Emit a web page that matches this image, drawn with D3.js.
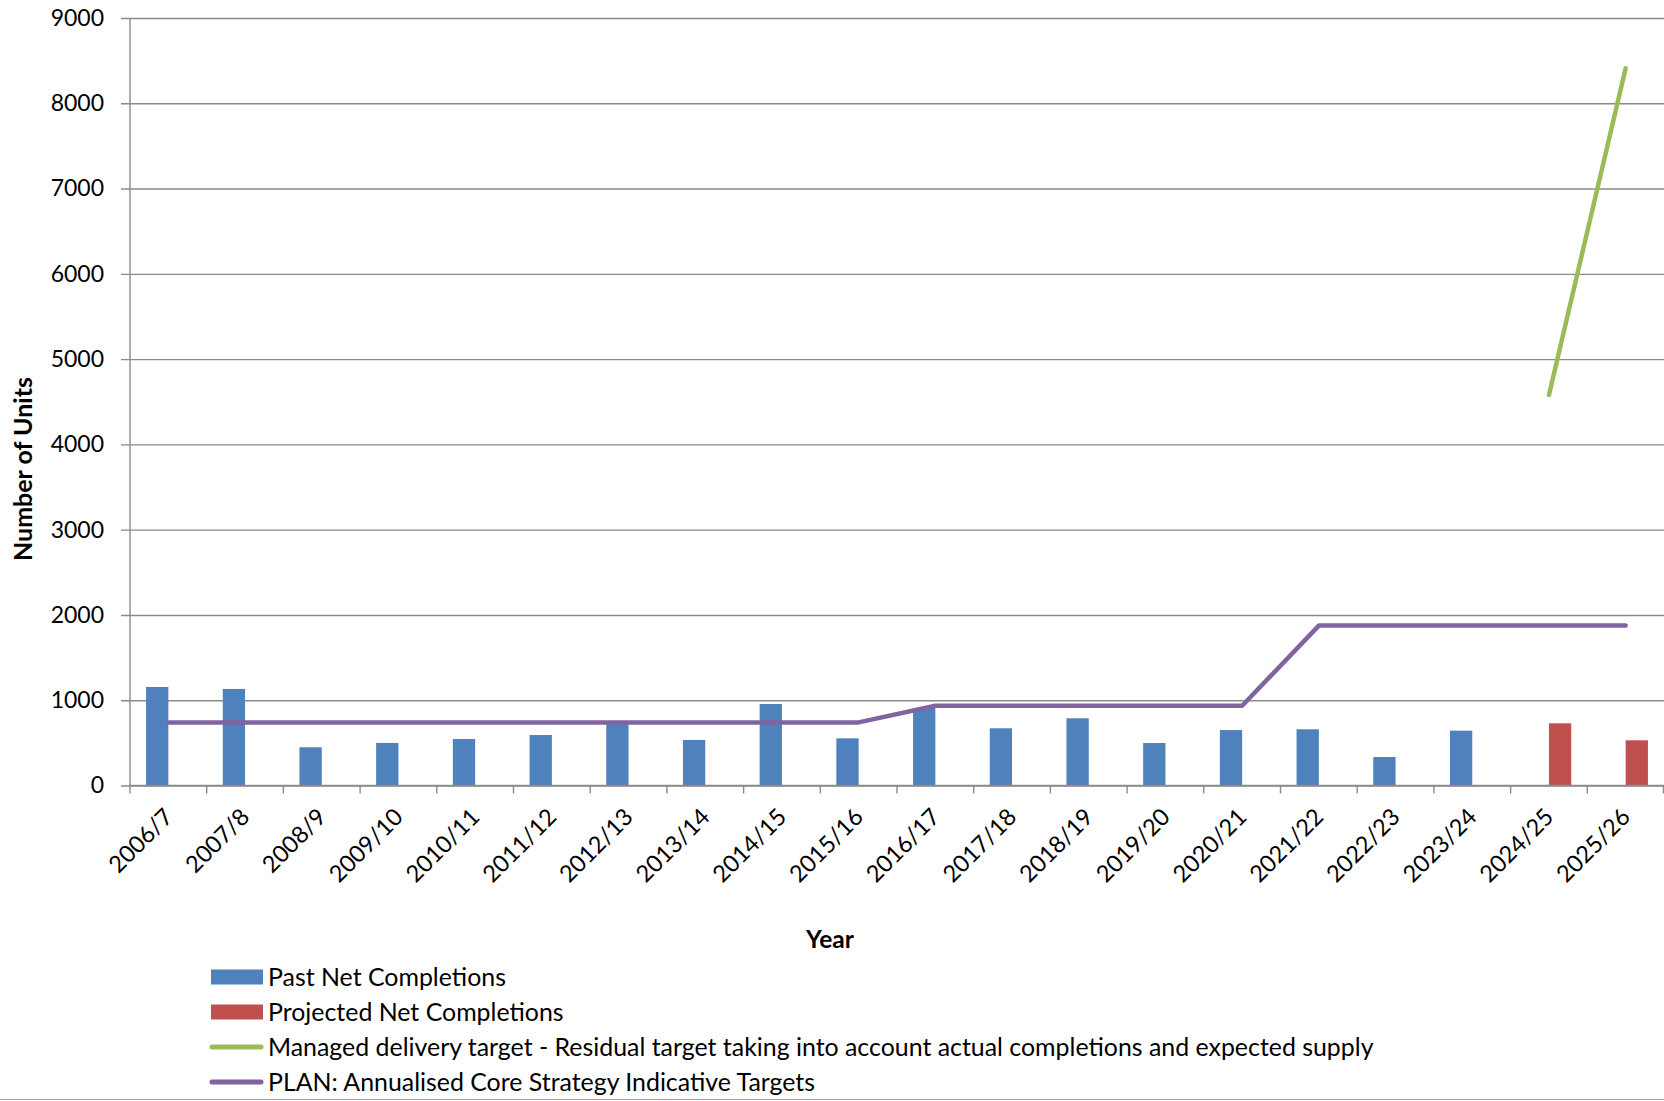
<!DOCTYPE html>
<html>
<head>
<meta charset="utf-8">
<script src="https://cdn.jsdelivr.net/npm/d3@7"></script>
<style>
  html, body { margin: 0; padding: 0; background: #fff; }
  svg { display: block; font-family: Lato, "Open Sans", sans-serif; }
</style>
</head>
<body>
<svg id="chart" width="1664" height="1101"></svg>
<script>
const categories = ["2006/7","2007/8","2008/9","2009/10","2010/11","2011/12","2012/13","2013/14","2014/15","2015/16","2016/17","2017/18","2018/19","2019/20","2020/21","2021/22","2022/23","2023/24","2024/25","2025/26"];
const pastNet = [1155,1132,448,499,545,592,730,534,956,553,910,671,788,498,650,659,334,643,null,null];
const projectedNet = [null,null,null,null,null,null,null,null,null,null,null,null,null,null,null,null,null,null,729,530];
const managedTarget = [null,null,null,null,null,null,null,null,null,null,null,null,null,null,null,null,null,null,4580,8410];
const planTarget = [740,740,740,740,740,740,740,740,740,740,935,935,935,935,935,1875,1875,1875,1875,1875];
const yTicks = [0,1000,2000,3000,4000,5000,6000,7000,8000,9000];
const seriesNames = ["Past Net Completions","Projected Net Completions","Managed delivery target - Residual target taking into account actual completions and expected supply","PLAN: Annualised Core Strategy Indicative Targets"];

const colors = { past: "#4F81BD", projected: "#C0504D", managed: "#9BBB59", plan: "#8064A2" };
const gridColor = "#8a8a8a";

const svg = d3.select("#chart");
const pLeft = 130, pRight = 1664, pTop = 18, pBottom = 785.5;

const x = d3.scaleBand().domain(categories).range([pLeft, pRight]).padding(0);
const xs = d3.scaleBand().domain(["past","projected"]).range([0, x.bandwidth()]).paddingInner(0).paddingOuter(0.72);
const y = d3.scaleLinear().domain([0, 9000]).range([pBottom, pTop]);

// gridlines + y axis
const yAxis = d3.axisLeft(y).tickValues(yTicks).tickSizeInner(-(pRight - pLeft)).tickSizeOuter(0).tickPadding(26).tickFormat(d3.format("d"));
const gy = svg.append("g").attr("transform", `translate(${pLeft},0)`).call(yAxis);
gy.select(".domain").remove();
gy.selectAll(".tick line").attr("stroke", gridColor).attr("stroke-width", 1.4).attr("x1", -9);
gy.selectAll(".tick text").attr("font-size", 23).attr("fill", "#000").attr("font-family", "Lato");

// bars
svg.append("g").selectAll("rect").data(categories.map((c,i)=>({c, v: pastNet[i]})).filter(d=>d.v!=null))
  .join("rect").attr("x", d => x(d.c) + xs("past")).attr("width", xs.bandwidth())
  .attr("y", d => y(d.v)).attr("height", d => y(0) - y(d.v)).attr("fill", colors.past);
svg.append("g").selectAll("rect").data(categories.map((c,i)=>({c, v: projectedNet[i]})).filter(d=>d.v!=null))
  .join("rect").attr("x", d => x(d.c) + xs("projected")).attr("width", xs.bandwidth())
  .attr("y", d => y(d.v)).attr("height", d => y(0) - y(d.v)).attr("fill", colors.projected);

// y axis line
svg.append("line").attr("x1", pLeft).attr("x2", pLeft).attr("y1", pTop).attr("y2", pBottom + 8)
  .attr("stroke", gridColor).attr("stroke-width", 1.4);
// x axis line
svg.append("line").attr("x1", pLeft).attr("x2", pRight).attr("y1", y(0)).attr("y2", y(0))
  .attr("stroke", gridColor).attr("stroke-width", 1.6);

// x ticks at band boundaries
const gx = svg.append("g");
gx.selectAll("line").data(categories.slice(1).concat(["__end"])).join("line")
  .attr("x1", d => d === "__end" ? pRight - 0.5 : x(d)).attr("x2", d => d === "__end" ? pRight - 0.5 : x(d))
  .attr("y1", pBottom).attr("y2", pBottom + 8).attr("stroke", gridColor).attr("stroke-width", 1.4);
gx.selectAll("text").data(categories).join("text")
  .attr("transform", d => `translate(${x(d) + x.bandwidth()/2 - 6},${pBottom + 21}) rotate(-45)`)
  .attr("text-anchor", "end").attr("dy", "0.72em").attr("font-size", 23.5).attr("fill", "#000")
  .text(d => d);

// lines
const lineGen = d3.line().defined(d => d.v != null).x(d => x(d.c) + x.bandwidth()/2).y(d => y(d.v));
svg.append("path").datum(categories.map((c,i)=>({c, v: planTarget[i]})))
  .attr("d", lineGen).attr("fill", "none").attr("stroke", colors.plan).attr("stroke-width", 4.5)
  .attr("stroke-linecap", "round").attr("stroke-linejoin", "round");
svg.append("path").datum(categories.map((c,i)=>({c, v: managedTarget[i]})))
  .attr("d", lineGen).attr("fill", "none").attr("stroke", colors.managed).attr("stroke-width", 4.5)
  .attr("stroke-linecap", "round").attr("stroke-linejoin", "round");

// axis titles
svg.append("text").attr("transform", "translate(32,469) rotate(-90)").attr("text-anchor", "middle")
  .attr("font-size", 25).attr("font-weight", "bold").text("Number of Units");
svg.append("text").attr("x", 830).attr("y", 948).attr("text-anchor", "middle")
  .attr("font-size", 24.5).attr("font-weight", "bold").text("Year");

// legend
const legend = svg.append("g");
const rows = [
  { name: seriesNames[0], type: "rect", color: colors.past, cy: 977 },
  { name: seriesNames[1], type: "rect", color: colors.projected, cy: 1012 },
  { name: seriesNames[2], type: "line", color: colors.managed, cy: 1047 },
  { name: seriesNames[3], type: "line", color: colors.plan, cy: 1082 }
];
rows.forEach(r => {
  if (r.type === "rect") {
    legend.append("rect").attr("x", 211).attr("y", r.cy - 7.5).attr("width", 52).attr("height", 15).attr("fill", r.color);
  } else {
    legend.append("line").attr("x1", 212).attr("x2", 261).attr("y1", r.cy).attr("y2", r.cy)
      .attr("stroke", r.color).attr("stroke-width", 5).attr("stroke-linecap", "round");
  }
  legend.append("text").attr("x", 268).attr("y", r.cy).attr("dy", "0.36em").attr("font-size", 24.9).attr("fill", "#000").text(r.name);
});

// bottom border
svg.append("line").attr("x1", 0).attr("x2", 1664).attr("y1", 1099.5).attr("y2", 1099.5).attr("stroke", "#a6a6a6").attr("stroke-width", 1.2);
</script>
</body>
</html>
